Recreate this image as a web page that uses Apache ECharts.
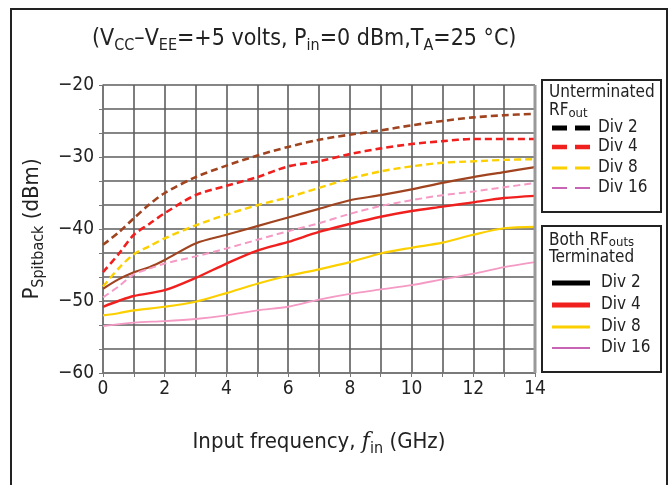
<!DOCTYPE html>
<html><head><meta charset="utf-8">
<script src="https://cdn.jsdelivr.net/npm/echarts@6/dist/echarts.min.js"></script>
<style>html,body{margin:0;padding:0;background:#fff}#c{width:671px;height:485px}</style>
</head><body><div id="c"></div>
<script>
// Frequency (GHz) / spitback (dBm) pairs
const unterminatedDiv2 = [[0,-42.2],[0.5,-40.5],[1,-38.5],[1.5,-36.6],[2,-35],[3,-32.8],[4,-31.2],[5,-29.8],[6,-28.6],[7,-27.6],[8,-26.9],[9,-26.3],[10,-25.6],[11,-25.0],[12,-24.5],[13,-24.2],[14,-24.0]];
const unterminatedDiv4 = [[0,-46],[0.5,-43.5],[1,-40.8],[1.5,-39.3],[2,-37.8],[3,-35.3],[4,-34],[5,-32.8],[6,-31.3],[7,-30.6],[8,-29.6],[9,-28.8],[10,-28.2],[11,-27.8],[12,-27.5],[13,-27.5],[14,-27.5]];
const unterminatedDiv8 = [[0,-48],[0.5,-45.5],[1,-43.5],[1.5,-42.4],[2,-41.3],[3,-39.5],[4,-38],[5,-36.7],[6,-35.6],[7,-34.3],[8,-33],[9,-32],[10,-31.3],[11,-30.8],[12,-30.6],[13,-30.4],[14,-30.3]];
const unterminatedDiv16 = [[0,-49.5],[0.5,-48],[1,-46.3],[1.5,-45.5],[2,-44.8],[3,-43.8],[4,-42.7],[5,-41.5],[6,-40.3],[7,-39.2],[8,-37.9],[9,-36.8],[10,-36],[11,-35.3],[12,-34.8],[13,-34.2],[14,-33.6]];
const terminatedDiv2 = [[0,-48.3],[0.5,-47],[1,-46],[1.5,-45.3],[2,-44.3],[3,-42],[4,-40.8],[5,-39.6],[6,-38.4],[7,-37.2],[8,-36],[9,-35.3],[10,-34.5],[11,-33.6],[12,-32.8],[13,-32.1],[14,-31.4]];
const terminatedDiv4 = [[0,-50.8],[0.5,-50],[1,-49.3],[2,-48.5],[3,-46.8],[4,-44.8],[5,-43],[6,-41.8],[7,-40.4],[8,-39.3],[9,-38.3],[10,-37.5],[11,-36.9],[12,-36.3],[13,-35.7],[14,-35.4]];
const terminatedDiv8 = [[0,-52],[0.5,-51.7],[1,-51.3],[2,-50.8],[3,-50.1],[4,-48.9],[5,-47.6],[6,-46.5],[7,-45.6],[8,-44.6],[9,-43.4],[10,-42.6],[11,-41.9],[12,-40.8],[13,-39.9],[14,-39.7]];
const terminatedDiv16 = [[0,-53.5],[1,-53],[2,-52.8],[3,-52.5],[4,-52],[5,-51.3],[6,-50.8],[7,-49.8],[8,-49],[9,-48.4],[10,-47.8],[11,-47],[12,-46.2],[13,-45.3],[14,-44.6]];
const xTicks = [0,2,4,6,8,10,12,14];
const yTicks = [-60,-50,-40,-30,-20];
const legendLabels = ['Div 2','Div 4','Div 8','Div 16'];

const FONT = '"Liberation Sans Narrow","DejaVu Sans Condensed","Roboto Condensed","Arial Narrow","Liberation Sans",sans-serif';
const BROWN = '#a0431f', RED = '#f0201e', YELLOW = '#fcd000', PINK = '#f49ac4', MAGENTA = '#c864b4';
const DASH = [7,4];

function mk(name, data, color, width, dashed){
  return {name, type:'line', data, symbol:'none', smooth:0.3, silent:true,
    lineStyle:{color, width, type: dashed ? DASH : 'solid'}, itemStyle:{color},
    z: dashed ? 3 : 2};
}
const series = [
  mk('Unterminated Div 2', unterminatedDiv2, BROWN, 2.6, true),
  mk('Unterminated Div 4', unterminatedDiv4, RED, 2.6, true),
  mk('Unterminated Div 8', unterminatedDiv8, YELLOW, 2.4, true),
  mk('Unterminated Div 16', unterminatedDiv16, PINK, 2.0, true),
  mk('Terminated Div 2', terminatedDiv2, BROWN, 2.2, false),
  mk('Terminated Div 4', terminatedDiv4, RED, 2.4, false),
  mk('Terminated Div 8', terminatedDiv8, YELLOW, 2.2, false),
  mk('Terminated Div 16', terminatedDiv16, PINK, 1.8, false)
];
// legend key styling (key swatches in the reference differ from curve colours)
const keyColors = ['#000', RED, YELLOW, MAGENTA];
const keyWidths1 = [5, 4.5, 3, 2];
const keyWidths2 = [5, 5, 3, 2];
const rows1 = [128, 147, 168, 188];
const rows2 = [283, 305, 327, 348];

const legendGraphics = [];
legendLabels.forEach((lab, i) => {
  legendGraphics.push({type:'line', silent:true, shape:{x1:552, y1:rows1[i], x2:590, y2:rows1[i]},
    style:{stroke:keyColors[i], lineWidth:keyWidths1[i], lineDash:[15,8]}});
  legendGraphics.push({type:'text', silent:true, x:598, y:rows1[i],
    style:{text:lab, fill:'#222', font:'17px '+FONT, verticalAlign:'middle'}});
  legendGraphics.push({type:'line', silent:true, shape:{x1:552, y1:rows2[i], x2:590, y2:rows2[i]},
    style:{stroke:keyColors[i], lineWidth:keyWidths2[i]}});
  legendGraphics.push({type:'text', silent:true, x:601, y:rows2[i],
    style:{text:lab, fill:'#222', font:'17px '+FONT, verticalAlign:'middle'}});
});

const minus = v => String(v).replace('-', '\u2212');
const subStyle = (fs)=>({fontSize:fs, fontFamily:FONT, color:'#222', verticalAlign:'bottom', lineHeight:fs});
const GRIDC = '#5e5e5e';

const option = {
  animation:false,
  backgroundColor:'#fff',
  textStyle:{fontFamily:FONT},
  grid:{left:103, top:85, width:432, height:288, show:false},
  xAxis:{type:'value', min:0, max:14, interval:2,
    axisLine:{show:true, onZero:false, lineStyle:{color:'#777', width:1.5}},
    axisTick:{show:true, length:4, lineStyle:{color:'#777'}},
    minorTick:{show:true, splitNumber:2, length:4, lineStyle:{color:'#777'}},
    splitLine:{show:true, lineStyle:{color:GRIDC, width:1.6}},
    minorSplitLine:{show:true, lineStyle:{color:GRIDC, width:1.6}},
    axisLabel:{color:'#222', fontSize:19, fontFamily:FONT, margin:7,
      formatter:v=> xTicks.includes(v) ? String(v) : ''},
    name:'Input frequency, {it|f}{sub|in} (GHz)', nameLocation:'middle', nameGap:54,
    nameTextStyle:{fontSize:22, fontFamily:FONT, color:'#222', lineHeight:30,
      rich:{it:{fontFamily:'"DejaVu Serif","Liberation Serif",serif', fontStyle:'italic', fontSize:22, color:'#222', lineHeight:30},
            sub:subStyle(16)}}
  },
  yAxis:{type:'value', min:-60, max:-20, interval:10,
    axisLine:{show:true, lineStyle:{color:'#777', width:1.5}},
    axisTick:{show:true, length:4, lineStyle:{color:'#777'}},
    minorTick:{show:true, splitNumber:3, length:4, lineStyle:{color:'#777'}},
    splitLine:{show:true, lineStyle:{color:GRIDC, width:1.6}},
    minorSplitLine:{show:true, lineStyle:{color:GRIDC, width:1.6}},
    axisLabel:{color:'#222', fontSize:19, fontFamily:FONT, margin:9,
      formatter:v=> yTicks.includes(v) ? minus(v) : ''},
    name:'P{sub|Spitback} (dBm)', nameLocation:'middle', nameGap:50, nameRotate:90,
    nameTextStyle:{fontSize:22, fontFamily:FONT, color:'#222', lineHeight:30,
      rich:{sub:subStyle(16)}}
  },
  graphic:[
    {type:'polyline', silent:true, shape:{points:[[11,490],[11,9],[667,9],[667,490]]},
     style:{stroke:'#222', lineWidth:2, fill:null}},
    {type:'line', silent:true, shape:{x1:535, y1:85, x2:535, y2:373}, style:{stroke:'#999', lineWidth:3}, z:10},
    {type:'rect', silent:true, shape:{x:542, y:80, width:119, height:132}, style:{fill:'#fff', stroke:'#222', lineWidth:2}, z:-1},
    {type:'rect', silent:true, shape:{x:542, y:226, width:119, height:146}, style:{fill:'#fff', stroke:'#222', lineWidth:2}, z:-1},
    {type:'text', silent:true, left:549, top:84, style:{text:'Unterminated\nRF{sub|out}', fill:'#222', font:'17px '+FONT, lineHeight:18,
      rich:{sub:{fontSize:13, fontFamily:FONT, fill:'#222', verticalAlign:'bottom', lineHeight:13}}}},
    {type:'text', silent:true, left:549, top:232, style:{text:'Both RF{sub|outs}\nTerminated', fill:'#222', font:'17px '+FONT, lineHeight:17,
      rich:{sub:{fontSize:13, fontFamily:FONT, fill:'#222', verticalAlign:'bottom', lineHeight:13}}}},
    {type:'text', silent:true, left:92, top:24, style:{
      text:'(V{sub|CC}\u2013V{sub|EE}=+5 volts, P{sub|in}=0 dBm,T{sub|A}=25 \u00b0C)',
      fill:'#222', font:'23px '+FONT, lineHeight:30,
      rich:{sub:{fontSize:16, fontFamily:FONT, fill:'#222', verticalAlign:'bottom', lineHeight:16}}}}
  ].concat(legendGraphics),
  series
};
const chart = echarts.init(document.getElementById('c'), null, {renderer:'canvas'});
chart.setOption(option);
</script></body></html>
